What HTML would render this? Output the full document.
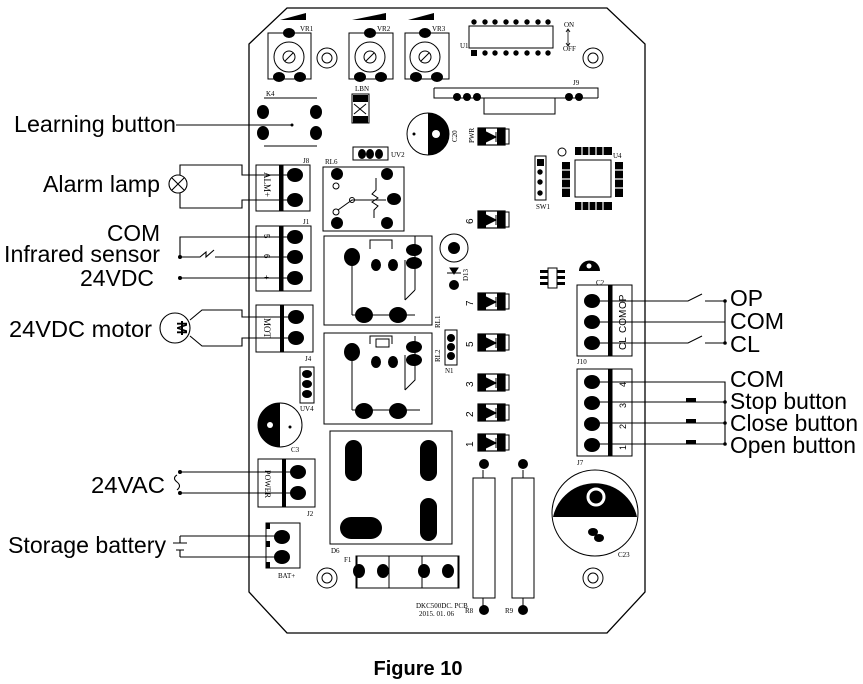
<!DOCTYPE html>
<html><head><meta charset="utf-8"><style>
html,body{margin:0;padding:0;background:#fff;}
svg{display:block;}
text{font-family:"Liberation Sans",Arial,sans-serif;fill:#000;}
.s{font-family:"Liberation Serif",serif;font-size:7px;}
</style></head><body>
<svg width="863" height="684" viewBox="0 0 863 684" xmlns="http://www.w3.org/2000/svg">
<defs>
<g id="diode">
 <rect x="-13" y="-9" width="27" height="17" fill="#fff" stroke="#000" stroke-width="1.2"/>
 <rect x="-13" y="-9" width="8" height="17"/>
 <rect x="6" y="-9" width="8" height="17"/>
 <path d="M-5,-5 L5,0 L-5,5Z M5,-5 V5" fill="#000" stroke="#000"/>
 <path d="M14,-8 H18 V7 H14" fill="none" stroke="#000"/>
</g>
<g id="pad"><ellipse rx="7" ry="6.5"/></g>
</defs>
<g fill="none" stroke="#000" stroke-width="1.3">
 <!-- board outline -->
 <path d="M287,8 H607 L645,44 V592 L607,633 H287 L249,592 V44 Z"/>
</g>
<!-- VR pots -->
<g stroke="#000" fill="none" stroke-width="1">
 <rect x="268" y="33" width="43" height="46"/>
 <circle cx="289" cy="57" r="15"/>
 <rect x="349" y="33" width="44" height="46"/>
 <circle cx="370" cy="57" r="15"/>
 <rect x="405" y="33" width="44" height="46"/>
 <circle cx="425" cy="57" r="15"/>
 <circle cx="327" cy="58" r="10"/><circle cx="327" cy="58" r="5"/>
 <circle cx="593" cy="58" r="10"/><circle cx="593" cy="58" r="5"/>
 <circle cx="327" cy="578" r="10"/><circle cx="327" cy="578" r="5"/>
 <circle cx="593" cy="578" r="10"/><circle cx="593" cy="578" r="5"/>
 <circle cx="289" cy="57" r="6"/><circle cx="370" cy="57" r="6"/><circle cx="425" cy="57" r="6"/>
 <path d="M285,61 L293,53 M366,61 L374,53 M421,61 L429,53"/>
</g>
<g fill="#000">
 <path d="M280,20 L306,13 V20Z"/><path d="M352,20 L386,13 V20Z"/><path d="M408,20 L434,13 V20Z"/>
 <ellipse cx="289" cy="33" rx="6" ry="5"/><ellipse cx="279" cy="77" rx="6" ry="5"/><ellipse cx="300" cy="77" rx="6" ry="5"/>
 <ellipse cx="370" cy="33" rx="6" ry="5"/><ellipse cx="360" cy="77" rx="6" ry="5"/><ellipse cx="381" cy="77" rx="6" ry="5"/>
 <ellipse cx="425" cy="33" rx="6" ry="5"/><ellipse cx="416" cy="77" rx="6" ry="5"/><ellipse cx="437" cy="77" rx="6" ry="5"/>
</g>
<text class="s" x="300" y="31">VR1</text><text class="s" x="377" y="31">VR2</text><text class="s" x="432" y="31">VR3</text>
<!-- U1 -->
<rect x="469" y="26" width="84" height="22" fill="none" stroke="#000"/>
<g fill="#000">
 <circle cx="474" cy="22" r="2.7"/><circle cx="485" cy="22" r="2.7"/><circle cx="495" cy="22" r="2.7"/><circle cx="506" cy="22" r="2.7"/><circle cx="516" cy="22" r="2.7"/><circle cx="527" cy="22" r="2.7"/><circle cx="538" cy="22" r="2.7"/><circle cx="548" cy="22" r="2.7"/>
 <rect x="471" y="50" width="6" height="6"/><circle cx="485" cy="53" r="2.7"/><circle cx="495" cy="53" r="2.7"/><circle cx="506" cy="53" r="2.7"/><circle cx="516" cy="53" r="2.7"/><circle cx="527" cy="53" r="2.7"/><circle cx="538" cy="53" r="2.7"/><circle cx="548" cy="53" r="2.7"/>
</g>
<text class="s" x="460" y="48">U1</text><text class="s" x="564" y="27">ON</text><text class="s" x="563" y="51">OFF</text>
<path d="M568,30 V45 M566,32 L568,29 L570,32 M566,43 L568,46 L570,43" stroke="#000" fill="none" stroke-width="0.8"/>
<!-- J9 -->
<g stroke="#000" fill="none">
 <path d="M434,88 H598 V98 M434,88 V98 H598"/>
 <rect x="484" y="98" width="71" height="16"/>
</g>
<g fill="#000"><circle cx="457" cy="97" r="4"/><circle cx="467" cy="97" r="4"/><circle cx="477" cy="97" r="4"/><circle cx="569" cy="97" r="4"/><circle cx="579" cy="97" r="4"/></g>
<text class="s" x="573" y="85">J9</text>
<!-- LBN -->
<rect x="352" y="94" width="17" height="29" fill="none" stroke="#000"/>
<rect x="353" y="95" width="15" height="7"/><rect x="353" y="116" width="15" height="7"/>
<path d="M354,104 L366,114 M366,104 L354,114" stroke="#000"/>
<text class="s" x="355" y="91">LBN</text>
<!-- K4 -->
<path d="M264,98 H317 M264,146 H317" stroke="#000"/>
<g fill="#000"><ellipse cx="263" cy="112" rx="6" ry="7"/><ellipse cx="263" cy="133" rx="6" ry="7"/><ellipse cx="316" cy="112" rx="6" ry="7"/><ellipse cx="316" cy="133" rx="6" ry="7"/><circle cx="292" cy="125" r="1.5"/></g>
<text class="s" x="266" y="96">K4</text>
<!-- C20 -->
<circle cx="428" cy="134" r="21" fill="#fff" stroke="#000"/>
<path d="M428,113 A21,21 0 0 1 428,155 Z" fill="#000"/>
<circle cx="436" cy="134" r="4" fill="#fff"/><circle cx="414" cy="134" r="1.5" fill="#000"/>
<text class="s" transform="translate(457,142) rotate(-90)">C20</text>
<!-- diodes -->
<use href="#diode" x="491" y="137"/><use href="#diode" x="491" y="220"/><use href="#diode" x="491" y="302"/>
<use href="#diode" x="491" y="343"/><use href="#diode" x="491" y="383"/><use href="#diode" x="491" y="413"/><use href="#diode" x="491" y="443"/>
<text class="s" transform="translate(474,143) rotate(-90)">PWR</text>
<g style="font-family:'Liberation Serif',serif;font-size:10px">
<text transform="translate(473,224) rotate(-90)">6</text><text transform="translate(473,306) rotate(-90)">7</text><text transform="translate(473,347) rotate(-90)">5</text><text transform="translate(473,387) rotate(-90)">3</text><text transform="translate(473,417) rotate(-90)">2</text><text transform="translate(473,447) rotate(-90)">1</text>
</g>
<!-- UV2 -->
<rect x="353" y="147" width="35" height="13" fill="none" stroke="#000"/>
<g fill="#000"><ellipse cx="362" cy="154" rx="4" ry="5"/><ellipse cx="370" cy="154" rx="4" ry="5"/><ellipse cx="379" cy="154" rx="4" ry="5"/></g>
<text class="s" x="391" y="157">UV2</text>
<!-- SW1 -->
<rect x="535" y="156" width="11" height="44" fill="none" stroke="#000"/>
<rect x="537" y="159" width="7" height="7"/><g fill="#000"><circle cx="540" cy="172" r="2.7"/><circle cx="540" cy="182" r="2.7"/><circle cx="540" cy="193" r="2.7"/></g>
<text class="s" x="536" y="209">SW1</text>
<!-- U4 -->
<rect x="575" y="160" width="36" height="37" fill="none" stroke="#000"/>
<circle cx="562" cy="152" r="4" fill="none" stroke="#000"/>
<g fill="#000"><rect x="575" y="147" width="37" height="8"/><rect x="575" y="202" width="37" height="8"/><rect x="562" y="162" width="8" height="35"/><rect x="615" y="162" width="8" height="35"/></g>
<g stroke="#fff" stroke-width="1.2"><path d="M582,147V155 M589,147V155 M596,147V155 M603,147V155 M582,202V210 M589,202V210 M596,202V210 M603,202V210 M562,170H570 M562,179H570 M562,188H570 M615,170H623 M615,179H623 M615,188H623"/></g>
<text class="s" x="613" y="158">U4</text>
<!-- J8 -->
<g stroke="#000" fill="none"><rect x="256" y="165" width="27" height="46"/><rect x="283" y="165" width="27" height="46"/></g>
<rect x="279" y="165" width="4" height="46"/>
<g fill="#000"><ellipse cx="295" cy="175" rx="8" ry="7"/><ellipse cx="295" cy="200" rx="8" ry="7"/></g>
<text class="s" transform="translate(264,172) rotate(90)" style="font-size:9px">ALM+</text><text class="s" x="303" y="163">J8</text>
<!-- RL6 -->
<rect x="323" y="167" width="81" height="64" fill="none" stroke="#000"/>
<g fill="#000"><ellipse cx="337" cy="174" rx="6" ry="6"/><ellipse cx="387" cy="174" rx="6" ry="6"/><ellipse cx="394" cy="199" rx="7" ry="6"/><ellipse cx="337" cy="223" rx="6" ry="6"/><ellipse cx="387" cy="223" rx="6" ry="6"/></g>
<g stroke="#000" fill="none"><circle cx="336" cy="186" r="3"/><circle cx="336" cy="212" r="3"/><circle cx="352" cy="200" r="2.5"/><path d="M338,210 L352,200 H386 M376,178 V190 L372,194 L378,198 L372,202 L378,206 L374,210 V218"/></g>
<text class="s" x="325" y="164">RL6</text>
<!-- Relays -->
<g stroke="#000" fill="none">
 <rect x="324" y="236" width="108" height="89"/>
 <rect x="324" y="333" width="108" height="91"/>
 <rect x="330" y="431" width="122" height="113"/>
 <path d="M352,257 V315 M370,249 V240 H392 V249 M405,260 V300 M405,300 L415,290 M415,290 V236 M352,315 H415"/>
 <path d="M352,351 V410 M370,344 V336 H392 V344 M405,355 V390 M405,390 L415,380 V336 M352,410 H420"/>
</g>
<g fill="#000">
 <ellipse cx="352" cy="257" rx="8" ry="9"/><ellipse cx="376" cy="265" rx="5" ry="6"/><ellipse cx="393" cy="265" rx="5" ry="6"/><ellipse cx="414" cy="250" rx="8" ry="6"/><ellipse cx="414" cy="263" rx="8" ry="6"/><ellipse cx="364" cy="315" rx="9" ry="8"/><ellipse cx="398" cy="315" rx="9" ry="8"/>
 <ellipse cx="352" cy="352" rx="8" ry="9"/><ellipse cx="376" cy="362" rx="5" ry="6"/><ellipse cx="393" cy="362" rx="5" ry="6"/><ellipse cx="414" cy="347" rx="8" ry="6"/><ellipse cx="414" cy="360" rx="8" ry="6"/><ellipse cx="364" cy="411" rx="9" ry="8"/><ellipse cx="398" cy="411" rx="9" ry="8"/>
 <rect x="345" y="440" width="17" height="41" rx="8.5"/><rect x="420" y="440" width="17" height="41" rx="8.5"/><rect x="420" y="498" width="17" height="43" rx="8.5"/><rect x="340" y="517" width="42" height="22" rx="11"/>
</g>
<rect x="376" y="339" width="13" height="8" fill="none" stroke="#000"/>
<text class="s" transform="translate(440,328) rotate(-90)">RL1</text><text class="s" transform="translate(440,362) rotate(-90)">RL2</text>
<text class="s" x="331" y="553">D6</text>
<!-- N1 -->
<rect x="445" y="330" width="12" height="35" fill="none" stroke="#000"/>
<g fill="#000"><circle cx="451" cy="338" r="4"/><circle cx="451" cy="347" r="4"/><circle cx="451" cy="356" r="4"/></g>
<text class="s" x="445" y="373">N1</text>
<!-- D13 -->
<circle cx="454" cy="248" r="14" fill="none" stroke="#000"/><circle cx="454" cy="248" r="6"/>
<circle cx="454" cy="285" r="5"/><path d="M447,273 H461 M450,268 L454,274 L458,268Z" stroke="#000"/>
<text class="s" transform="translate(468,281) rotate(-90)">D13</text>
<!-- J1 -->
<g stroke="#000" fill="none"><rect x="256" y="226" width="27" height="65"/><rect x="283" y="226" width="28" height="65"/></g>
<rect x="279" y="226" width="4" height="65"/>
<g fill="#000"><ellipse cx="295" cy="237" rx="8" ry="7"/><ellipse cx="295" cy="257" rx="8" ry="7"/><ellipse cx="295" cy="278" rx="8" ry="7"/></g>
<text class="s" x="303" y="224">J1</text>
<g class="s" style="font-family:'Liberation Serif',serif;font-size:8px"><text transform="translate(264,234) rotate(90)">5</text><text transform="translate(264,254) rotate(90)">6</text><text transform="translate(264,275) rotate(90)">+</text></g>
<!-- J4 -->
<g stroke="#000" fill="none"><rect x="256" y="305" width="27" height="47"/><rect x="283" y="305" width="30" height="47"/></g>
<rect x="280" y="305" width="4" height="47"/>
<g fill="#000"><ellipse cx="296" cy="317" rx="8" ry="7"/><ellipse cx="296" cy="338" rx="8" ry="7"/></g>
<text class="s" transform="translate(264,318) rotate(90)" style="font-size:9px">MOT</text><text class="s" x="305" y="361">J4</text>
<!-- UV4 -->
<rect x="300" y="367" width="14" height="36" fill="none" stroke="#000"/>
<g fill="#000"><ellipse cx="307" cy="374" rx="5" ry="4"/><ellipse cx="307" cy="384" rx="5" ry="4"/><ellipse cx="307" cy="394" rx="5" ry="4"/></g>
<text class="s" x="300" y="411">UV4</text>
<!-- C3 -->
<circle cx="280" cy="425" r="22" fill="#fff" stroke="#000"/>
<path d="M280,403 A22,22 0 0 0 280,447 Z" fill="#000"/><circle cx="270" cy="425" r="3" fill="#fff"/><circle cx="290" cy="427" r="1.5"/>
<text class="s" x="291" y="452">C3</text>
<!-- J2 -->
<g stroke="#000" fill="none"><rect x="258" y="459" width="25" height="48"/><rect x="283" y="459" width="32" height="48"/></g>
<rect x="282" y="459" width="4" height="48"/>
<g fill="#000"><ellipse cx="298" cy="472" rx="8" ry="7"/><ellipse cx="298" cy="493" rx="8" ry="7"/></g>
<text class="s" transform="translate(265,470) rotate(90)" style="font-size:8px">POWER</text><text class="s" x="307" y="516">J2</text>
<!-- BAT -->
<rect x="266" y="523" width="34" height="45" fill="none" stroke="#000"/>
<g fill="#000"><ellipse cx="282" cy="537" rx="8" ry="7"/><ellipse cx="282" cy="557" rx="8" ry="7"/><rect x="266" y="523" width="4" height="6"/><rect x="266" y="541" width="4" height="6"/><rect x="266" y="562" width="4" height="6"/></g>
<text class="s" x="278" y="578">BAT+</text>
<!-- F1 -->
<g stroke="#000" fill="none"><rect x="356" y="556" width="103" height="32"/><rect x="357" y="556" width="32" height="32"/><rect x="422" y="556" width="36" height="32"/></g>
<g fill="#000"><ellipse cx="359" cy="571" rx="6" ry="7"/><ellipse cx="383" cy="571" rx="6" ry="7"/><ellipse cx="424" cy="571" rx="6" ry="7"/><ellipse cx="448" cy="571" rx="6" ry="7"/></g>
<text class="s" x="344" y="562">F1</text>
<!-- R8 R9 -->
<g stroke="#000" fill="none"><rect x="473" y="478" width="22" height="120"/><rect x="512" y="478" width="22" height="120"/><path d="M483,470V478 M483,598V606 M523,470V478 M523,598V606"/></g>
<g fill="#000"><circle cx="484" cy="464" r="5"/><circle cx="484" cy="610" r="5"/><circle cx="523" cy="464" r="5"/><circle cx="523" cy="610" r="5"/></g>
<text class="s" x="465" y="613">R8</text><text class="s" x="505" y="613">R9</text>
<text class="s" x="416" y="608">DKC500DC. PCB</text><text class="s" x="419" y="616">2015. 01. 06</text>
<!-- C23 -->
<circle cx="595" cy="513" r="43" fill="#fff" stroke="#000"/>
<path d="M553,517 A43,43 0 0 1 637,517 Z" fill="#000"/>
<circle cx="596" cy="497" r="8" fill="none" stroke="#fff" stroke-width="3"/>
<ellipse cx="593" cy="532" rx="5" ry="4"/><ellipse cx="599" cy="538" rx="5" ry="4"/>
<text class="s" x="618" y="557">C23</text>
<!-- U3/C2 -->
<g fill="#000"><rect x="540" y="270" width="8" height="3"/><rect x="540" y="276" width="8" height="3"/><rect x="540" y="282" width="8" height="3"/><rect x="557" y="270" width="8" height="3"/><rect x="557" y="276" width="8" height="3"/><rect x="557" y="282" width="8" height="3"/></g>
<rect x="548" y="268" width="9" height="20" fill="none" stroke="#000"/>
<path d="M579,271 A10,10 0 0 1 600,271 Z"/><circle cx="589" cy="266" r="2.5" fill="#fff"/>
<text class="s" x="596" y="285">C2</text>
<!-- J10 -->
<g stroke="#000" fill="none"><rect x="577" y="285" width="35" height="71"/><rect x="610" y="285" width="22" height="71"/></g>
<rect x="608" y="285" width="4" height="71"/>
<g fill="#000"><ellipse cx="592" cy="301" rx="8" ry="7"/><ellipse cx="592" cy="322" rx="8" ry="7"/><ellipse cx="592" cy="343" rx="8" ry="7"/></g>
<g style="font-family:'Liberation Serif',serif;font-size:10px"><text transform="translate(626,309) rotate(-90)">OP</text><text transform="translate(626,333) rotate(-90)">COM</text><text transform="translate(626,350) rotate(-90)">CL</text></g>
<text class="s" x="577" y="364">J10</text>
<!-- J7 -->
<g stroke="#000" fill="none"><rect x="577" y="369" width="35" height="87"/><rect x="610" y="369" width="22" height="87"/></g>
<rect x="608" y="369" width="4" height="87"/>
<g fill="#000"><ellipse cx="592" cy="382" rx="8" ry="7"/><ellipse cx="592" cy="403" rx="8" ry="7"/><ellipse cx="592" cy="424" rx="8" ry="7"/><ellipse cx="592" cy="445" rx="8" ry="7"/></g>
<g style="font-family:'Liberation Serif',serif;font-size:9px"><text transform="translate(626,387) rotate(-90)">4</text><text transform="translate(626,408) rotate(-90)">3</text><text transform="translate(626,429) rotate(-90)">2</text><text transform="translate(626,450) rotate(-90)">1</text></g>
<text class="s" x="577" y="465">J7</text>

<!-- external wiring left -->
<g stroke="#000" fill="none" stroke-width="1.1">
 <path d="M176,125 H292"/>
 <circle cx="178" cy="184" r="9"/><path d="M172,178 L184,190 M184,178 L172,190"/>
 <path d="M180,175 V165 H242 V175 H295 M180,193 V208 H242 V200 H295"/>
 <path d="M180,257 V237 H295 M180,257 H200 L206,252 V257 L214,250 M215,257 H295 M180,278 H295"/>
 <circle cx="175" cy="328" r="15"/>
 <path d="M190,320 L202,310 H242 V317 H296 M190,336 L202,346 H242 V338 H296"/>
 <path d="M180,472 H298 M180,493 H298 M177,475 Q172,478 177,482 Q182,486 177,490"/>
 <path d="M180,536 H282 M180,557 H282 M180,536 V543 M180,550 V557 M173,543 H187 M176,550 H184"/>
</g>
<g fill="#000"><circle cx="180" cy="472" r="2"/><circle cx="180" cy="493" r="2"/><circle cx="180" cy="257" r="2"/><circle cx="180" cy="278" r="2"/></g>
<text transform="translate(182,328) rotate(90)" text-anchor="middle" style="font-size:15px;font-weight:bold" dy="5">M</text>
<path d="M182,321 V335" stroke="#000" stroke-width="2"/>
<!-- external wiring right -->
<g stroke="#000" fill="none" stroke-width="1.1">
 <path d="M592,301 H688 L702,294 M705,301 H725 V343 M592,322 H725 M592,343 H688 L702,336 M705,343 H725"/>
 <path d="M592,382 H725 V444 M592,402 H725 M592,423 H725 M592,444 H725"/>
</g>
<g fill="#000">
 <circle cx="725" cy="301" r="1.8"/><circle cx="725" cy="343" r="1.8"/><circle cx="725" cy="402" r="1.8"/><circle cx="725" cy="423" r="1.8"/><circle cx="725" cy="444" r="1.8"/>
 <rect x="686" y="398" width="10" height="4"/><rect x="686" y="419" width="10" height="4"/><rect x="686" y="440" width="10" height="4"/>
</g>
<!-- labels -->
<g style="font-size:23px">
 <text x="14" y="132" textLength="162" lengthAdjust="spacingAndGlyphs">Learning button</text>
 <text x="43" y="192" textLength="117" lengthAdjust="spacingAndGlyphs">Alarm lamp</text>
 <text x="107" y="241" textLength="53" lengthAdjust="spacingAndGlyphs">COM</text>
 <text x="4" y="262" textLength="156" lengthAdjust="spacingAndGlyphs">Infrared sensor</text>
 <text x="80" y="286" textLength="74" lengthAdjust="spacingAndGlyphs">24VDC</text>
 <text x="9" y="337" textLength="143" lengthAdjust="spacingAndGlyphs">24VDC motor</text>
 <text x="91" y="493" textLength="74" lengthAdjust="spacingAndGlyphs">24VAC</text>
 <text x="8" y="553" textLength="158" lengthAdjust="spacingAndGlyphs">Storage battery</text>
 <text x="730" y="306" textLength="33" lengthAdjust="spacingAndGlyphs">OP</text>
 <text x="730" y="329" textLength="54" lengthAdjust="spacingAndGlyphs">COM</text>
 <text x="730" y="352" textLength="30" lengthAdjust="spacingAndGlyphs">CL</text>
 <text x="730" y="387" textLength="54" lengthAdjust="spacingAndGlyphs">COM</text>
 <text x="730" y="409" textLength="117" lengthAdjust="spacingAndGlyphs">Stop button</text>
 <text x="730" y="431" textLength="128" lengthAdjust="spacingAndGlyphs">Close button</text>
 <text x="730" y="453" textLength="126" lengthAdjust="spacingAndGlyphs">Open button</text>
</g>
<text x="418" y="675" text-anchor="middle" style="font-size:20px;font-weight:bold">Figure 10</text>
</svg>
</body></html>
